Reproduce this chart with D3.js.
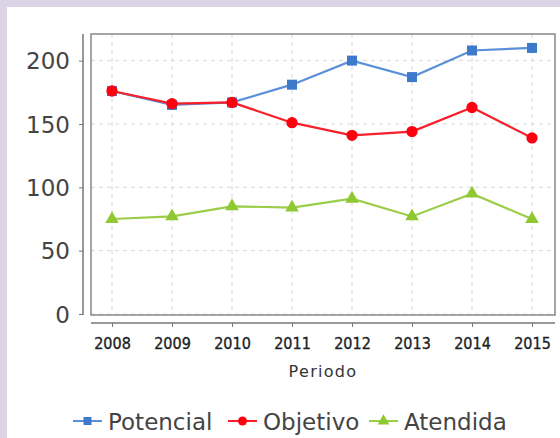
<!DOCTYPE html>
<html>
<head>
<meta charset="utf-8">
<script src="https://cdn.jsdelivr.net/npm/d3@7.9.0/dist/d3.min.js"></script>
<style>
  body { margin: 0; background: #dbd3e6; }
  svg { display: block; }
</style>
</head>
<body>
<svg id="chart" width="560" height="438"></svg>
<script>
const years = ['2008', '2009', '2010', '2011', '2012', '2013', '2014', '2015'];
const potencial = [176, 165, 167, 181, 200, 187, 208, 210];
const objetivo = [176, 166, 167, 151, 141, 144, 163, 139];
const atendida = [75, 77, 85, 84, 91, 77, 95, 75];
const yTicks = [0, 50, 100, 150, 200];

const series = [
  { name: 'Potencial', values: potencial, line: '#5b8fd9', mark: '#3d7acb', shape: d3.symbolSquare },
  { name: 'Objetivo', values: objetivo, line: '#f5202a', mark: '#ff0010', shape: d3.symbolCircle },
  { name: 'Atendida', values: atendida, line: '#9acd48', mark: '#8fc830', shape: d3.symbolTriangle }
];

const svg = d3.select('#chart');
const font = 'DejaVu Sans, sans-serif';

// white panel
svg.append('rect').attr('x', 7).attr('y', 7).attr('width', 553).attr('height', 431).attr('fill', '#fff');

const plot = { left: 91, right: 555, top: 34, bottom: 315 };

const x = d3.scalePoint().domain(years).range([112, 532]);
const y = d3.scaleLinear().domain([0, 221]).range([314, 34]);

// grid
const grid = svg.append('g').attr('stroke', '#d8d8d8').attr('stroke-dasharray', '4,4');
grid.selectAll('.vg').data(years).join('line')
  .attr('x1', d => x(d)).attr('x2', d => x(d))
  .attr('y1', plot.top).attr('y2', plot.bottom);
grid.selectAll('.hg').data(yTicks).join('line')
  .attr('x1', plot.left).attr('x2', plot.right)
  .attr('y1', d => y(d)).attr('y2', d => y(d));

// frame
svg.append('rect')
  .attr('x', plot.left).attr('y', plot.top)
  .attr('width', plot.right - plot.left).attr('height', plot.bottom - plot.top)
  .attr('fill', 'none').attr('stroke', '#888').attr('stroke-width', 1.5);

// y axis
const yAxis = svg.append('g').attr('transform', 'translate(83,0)')
  .call(d3.axisLeft(y).tickValues(yTicks).tickSize(4).tickPadding(9));
yAxis.select('.domain').attr('d', `M0,${plot.top}V${plot.bottom}`).attr('stroke', '#777').attr('stroke-width', 1.5);
yAxis.selectAll('.tick line').attr('stroke', '#777');
yAxis.selectAll('.tick text').attr('fill', '#444').attr('dy', '0.36em')
  .style('font-family', font).style('font-size', '23px');

// x axis
const xAxis = svg.append('g').attr('transform', 'translate(0,323)')
  .call(d3.axisBottom(x).tickSize(4).tickPadding(0));
xAxis.select('.domain').attr('d', `M${plot.left},0H${plot.right}`).attr('stroke', '#777').attr('stroke-width', 1.5);
xAxis.selectAll('.tick line').attr('stroke', '#777');
xAxis.selectAll('.tick text').attr('fill', '#1e1e1e').attr('y', 26).attr('dy', null)
  .attr('stroke', '#1e1e1e').attr('stroke-width', 0.35)
  .style('font-family', 'DejaVu Sans Condensed, DejaVu Sans, sans-serif')
  .style('font-size', '16px');

svg.append('text')
  .attr('x', 323).attr('y', 377)
  .attr('text-anchor', 'middle')
  .attr('fill', '#333')
  .style('font-family', font).style('font-size', '16px').style('letter-spacing', '1.3px')
  .text('Periodo');

// lines
const line = d3.line().x((d, i) => x(years[i])).y(d => y(d));
series.forEach(s => {
  svg.append('path').datum(s.values)
    .attr('d', line).attr('fill', 'none')
    .attr('stroke', s.line).attr('stroke-width', 2.2);
  svg.selectAll(null).data(s.values).join('path')
    .attr('transform', (d, i) => `translate(${x(years[i])},${y(d)})`)
    .attr('d', d3.symbol().type(s.shape).size(s.shape === d3.symbolTriangle ? 80 : 100))
    .attr('fill', s.mark);
});

// legend
const legendX = [73, 228, 369];
series.forEach((s, i) => {
  const g = svg.append('g').attr('transform', `translate(${legendX[i]},421)`);
  g.append('line').attr('x1', 0).attr('x2', 29).attr('stroke', s.line).attr('stroke-width', 2);
  g.append('path').attr('transform', 'translate(14.5,0)')
    .attr('d', d3.symbol().type(s.shape).size(s.shape === d3.symbolTriangle ? 60 : 64))
    .attr('fill', s.mark);
  g.append('text').attr('x', 35).attr('y', 9)
    .attr('fill', '#444')
    .style('font-family', font).style('font-size', '23px')
    .text(s.name);
});
</script>
</body>
</html>
